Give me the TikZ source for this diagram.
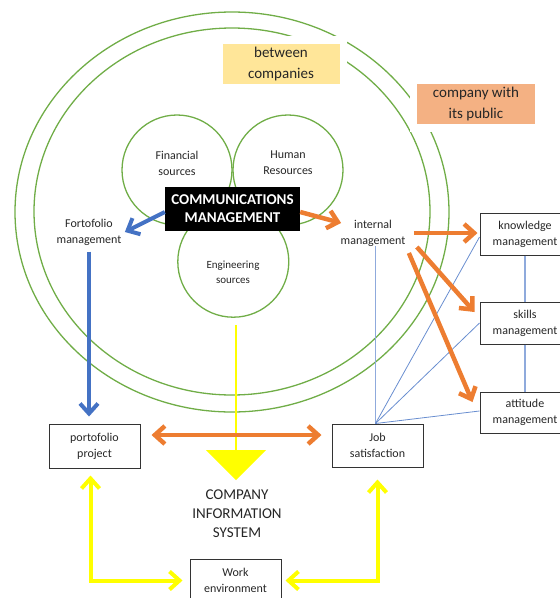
\documentclass[tikz,border=0pt]{standalone}
\usepackage{fontspec}
\setmainfont{Carlito}
\usepackage{tikz}
\usetikzlibrary{arrows}
\usetikzlibrary{arrows.meta}

\definecolor{ringgreen}{HTML}{70AD47}
\definecolor{arroworange}{HTML}{ED7D31}
\definecolor{arrowblue}{HTML}{4472C4}
\definecolor{paleblue}{HTML}{8FAADC}
\definecolor{tagyellow}{HTML}{FFE699}
\definecolor{tagorange}{HTML}{F4B183}
\definecolor{infoyellow}{HTML}{FFFF00}
\definecolor{txtgray}{HTML}{262626}

\tikzset{
  ring/.style={draw=ringgreen,line width=1.3pt},
  venn/.style={circle,draw=ringgreen,line width=1.3pt,minimum size=110pt,inner sep=0pt},
  txt/.style={text=txtgray,align=center,font=\fontsize{12}{16}\selectfont},
  box/.style={txt,draw=black!80,line width=1pt,minimum width=91pt,minimum height=43pt,inner sep=0pt},
  tag/.style={text=txtgray,align=center,font=\fontsize{15}{21}\selectfont,minimum width=117pt,minimum height=40pt,inner sep=0pt,preaction={draw=white,fill=white,line width=15pt}},
  barb/.tip={Straight Barb[length=10pt,width=18pt]},
  orangearrow/.style={draw=arroworange,line width=4.5pt,-barb},
  bluearrow/.style={draw=arrowblue,line width=4pt,-barb},
  infoarrow/.style={draw=infoyellow,line width=4pt,barb-barb},
  fineline/.style={draw=arrowblue!80,line width=0.8pt},
  paleline/.style={draw=paleblue,line width=1.5pt}
}

\begin{document}
\begin{tikzpicture}[x=1pt,y=-1pt]
\useasboundingbox (0,0) rectangle (560,598);
\clip (0,0) rectangle (560,598);

\draw[ring] (232,212) ellipse [x radius=217,y radius=200];
\draw[ring] (232,211.5) ellipse [x radius=198,y radius=183.5];

\node[tag,fill=tagyellow] (between) at (281,63.5) {between\\companies};
\node[tag,fill=tagorange,minimum width=118pt] (public) at (476,104) {company with\\its public};

\node[venn] (fin) at (177,170) {};
\node[venn] (hum) at (288,170) {};
\node[venn,minimum size=111pt] (eng) at (233.3,261.7) {};
\node[txt] (fintxt) at (177,163.5) {Financial\\sources};
\node[txt] (humtxt) at (288,163) {Human\\Resources};
\node[txt,font=\fontsize{11}{15}\selectfont] (engtxt) at (233,272.5) {Engineering\\sources};

\node[fill=black,text=white,align=center,font=\fontsize{15}{18}\selectfont\bfseries,minimum width=135pt,minimum height=44pt,inner sep=0pt] (comm) at (232.5,209) {COMMUNICATIONS\\MANAGEMENT};

\node[txt] (portf) at (89,232) {Fortofolio\\management};
\node[txt] (intm) at (373,233) {internal\\management};

\node[box,minimum width=90pt,minimum height=42pt] (know) at (525,234) {knowledge\\management};
\node[box,minimum width=90pt,minimum height=42pt] (skills) at (525,323) {skills\\management};
\node[box,minimum width=90pt,minimum height=41pt] (att) at (525,412.5) {attitude\\management};
\node[box] (job) at (377.5,445.5) {Job\\satisfaction};
\node[box,minimum height=44pt] (portp) at (94.5,446) {portofolio\\project};
\node[box] (work) at (235.5,580.5) {Work\\environment};
\node[text=txtgray,align=center,font=\fontsize{15}{19}\selectfont] (cis) at (237,514) {COMPANY\\INFORMATION\\SYSTEM};

\coordinate (jstop) at ([xshift=-2pt]job.north);
\draw[paleline] (jstop) -- ([yshift=4pt]jstop |- intm.south);
\draw[fineline] (jstop) -- ([yshift=-3pt]know.west);
\draw[fineline] (jstop) -- (skills.west);
\draw[fineline] (jstop) -- ([yshift=1.5pt]att.west);
\draw[paleline] (know.south) -- (skills.north);
\draw[paleline] (skills.south) -- (att.north);

\coordinate (tritop) at (236,450);
\draw[draw=infoyellow,line width=2pt] ([yshift=-7pt]tritop |- eng.south) -- (tritop);
\fill[infoyellow] (206,450) -- (266,450) -- (236,480) -- cycle;
\draw[infoarrow] ([xshift=-4pt,yshift=-7pt]portp.south) |- ([xshift=-7pt]work.west);
\draw[infoarrow] ([yshift=-12pt]job.south) |- ([xshift=4pt]work.east);

\draw[bluearrow] ([yshift=-3pt]comm.west) -- (portf.east);
\draw[bluearrow,shorten <=3pt,shorten >=7pt] (portf.south) -- (portf.south |- portp.north);
\draw[orangearrow] ([yshift=-3pt]comm.east) -- ([xshift=4pt,yshift=10pt]intm.west);
\draw[orangearrow] ([xshift=5pt]intm.east) -- ([xshift=-2pt]intm.east -| know.west);
\draw[orangearrow] ([xshift=8pt,yshift=-14pt]intm.east) -- ([xshift=-5pt,yshift=11pt]skills.west);
\draw[orangearrow] ([yshift=-20pt]intm.east) -- ([xshift=-7pt,yshift=10.5pt]att.west);
\draw[orangearrow,barb-barb] ([xshift=11pt,yshift=11pt]portp.east) -- ([xshift=-10pt,yshift=10.5pt]job.west);
\end{tikzpicture}
\end{document}
